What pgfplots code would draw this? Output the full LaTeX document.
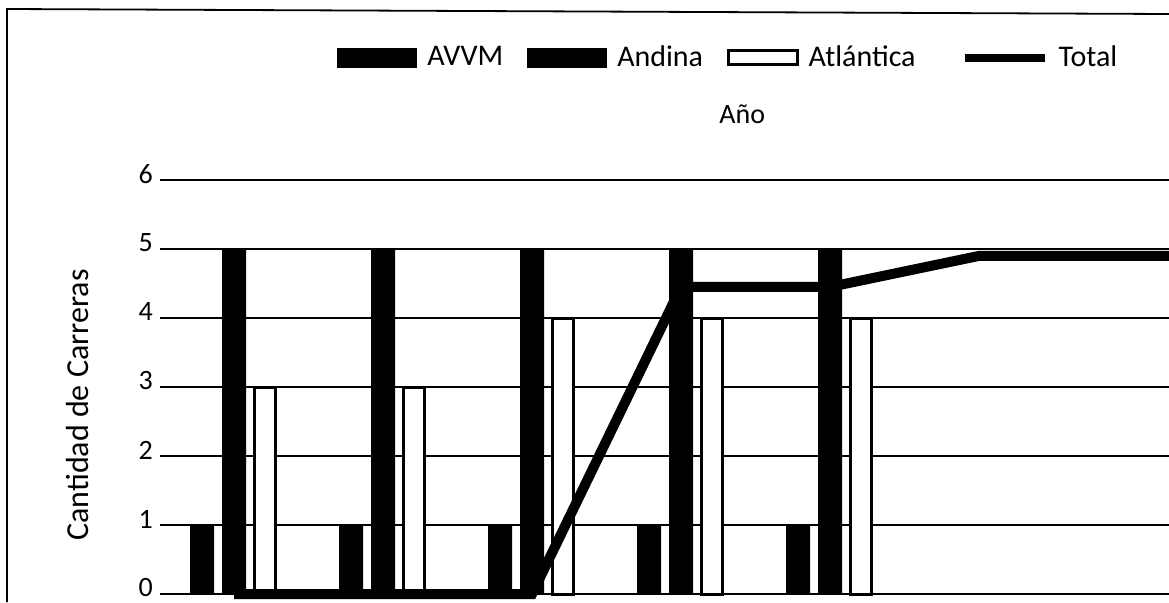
\documentclass[border=0pt]{standalone}
\usepackage{fontspec}
\setmainfont{Carlito}
\usepackage{pgfplots}
\pgfplotsset{compat=1.18}
\begin{document}
\begin{tikzpicture}[x=1pt,y=1pt]
\useasboundingbox (0,0) rectangle (584.5,301);
\draw[line width=0.9pt] (3.5,0) -- (3.5,296.5) -- (584.5,294);
\begin{axis}[
  at={(80pt,0pt)}, anchor=south west,
  scale only axis, width=504.5pt, height=211pt,
  xmin=-0.497, xmax=6.275, ymin=-0.116, ymax=6,
  axis line style={draw=none},
  xtick=\empty, ytick={0,1,2,3,4,5,6},
  major tick length=0pt,
  ymajorgrids, grid style={black, line width=0.6pt},
  /pgf/number format/assume math mode=true,
  yticklabel style={font=\fontsize{14}{16}\selectfont, yshift=3pt},
  ylabel={Cantidad de Carreras},
  every axis y label/.style={at={(axis description cs:-0.082,0.467)}, rotate=90, anchor=center, font=\fontsize{16}{19}\selectfont},
  title={Año},
  title style={at={(axis description cs:0.577,1.128)}, anchor=center, font=\fontsize{14}{17}\selectfont},
  legend columns=4,
  legend style={at={(axis description cs:0.1754,1.29)}, anchor=west, draw=none, fill=none, inner sep=0pt,
    font=\fontsize{15}{18}\selectfont,
    /tikz/every odd column/.append style={column sep=3pt},
    /tikz/every even column/.append style={column sep=10pt}},
]
\addplot[ybar, bar width=12pt, bar shift=-16pt, fill=black, draw=none,
  legend image code/.code={\fill[black] (0pt,-5pt) rectangle (40pt,5pt);}]
  coordinates {(0,1) (1,1) (2,1) (3,1) (4,1)};
\addplot[ybar, bar width=12pt, bar shift=0pt, fill=black, draw=none,
  legend image code/.code={\fill[black] (0pt,-5pt) rectangle (40pt,5pt);}]
  coordinates {(0,5) (1,5) (2,5) (3,5) (4,5)};
\addplot[ybar, bar width=10.5pt, bar shift=15.5pt, fill=white, draw=black, line width=1.5pt,
  legend image code/.code={\draw[black,line width=1.5pt,fill=white] (0.75pt,-3.5pt) rectangle (35pt,3.5pt);}]
  coordinates {(0,3) (1,3) (2,4) (3,4) (4,4)};
\addplot[black, line width=5pt, sharp plot, mark=none,
  legend image code/.code={\draw[black,line width=4pt] (0pt,0pt) -- (40pt,0pt);}]
  coordinates {(0,0) (1,0) (2,0) (3,4.45) (4,4.45) (5,4.9) (6,4.9) (7,4.9)};
\legend{AVVM,Andina,\makebox[64pt][l]{Atlántica},Total}
\end{axis}
\end{tikzpicture}
\end{document}
